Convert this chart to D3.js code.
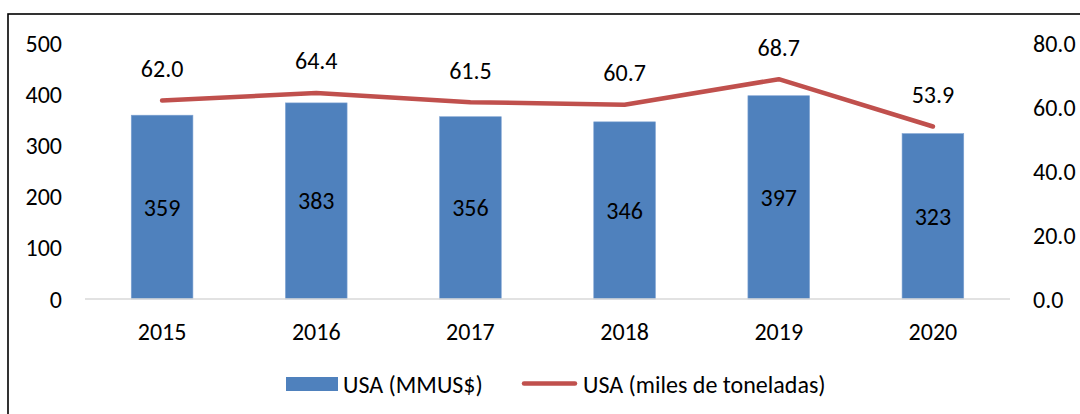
<!DOCTYPE html>
<html>
<head>
<meta charset="utf-8">
<script src="https://cdn.jsdelivr.net/npm/d3@7"></script>
<style>
  html, body { margin: 0; padding: 0; background: #fff; }
  svg { display: block; }
  text { font-family: Carlito, Lato, "Open Sans", sans-serif; fill: #000; }
</style>
</head>
<body>
<svg id="chart" width="1080" height="414"></svg>
<script>
const years = ["2015", "2016", "2017", "2018", "2019", "2020"];
const valueMMUS = [359, 383, 356, 346, 397, 323];
const volumeKt = [62.0, 64.4, 61.5, 60.7, 68.7, 53.9];
const leftTicks = [0, 100, 200, 300, 400, 500];
const rightTicks = [0, 20, 40, 60, 80];
const seriesNames = ["USA (MMUS$)", "USA (miles de toneladas)"];

const svg = d3.select("#chart");
const FS = 24;
const blue = "#4F81BD", red = "#C0504D";

// frame
svg.append("rect").attr("x", 8).attr("y", 14).attr("width", 1100).attr("height", 440)
  .attr("fill", "none").attr("stroke", "#000").attr("stroke-width", 1.6);

const x = d3.scaleBand().domain(years).range([85, 1010]).padding(0);
const yL = d3.scaleLinear().domain([0, 500]).range([299, 43]);
const yR = d3.scaleLinear().domain([0, 80]).range([299, 43]);
const bw = x.bandwidth() * 0.4;

// left axis labels
svg.append("g").selectAll("text").data(leftTicks).join("text")
  .attr("x", 62).attr("y", d => yL(d)).attr("text-anchor", "end")
  .attr("dominant-baseline", "central").attr("font-size", FS).text(d => d);

// right axis labels
svg.append("g").selectAll("text").data(rightTicks).join("text")
  .attr("x", 1033).attr("y", d => yR(d)).attr("text-anchor", "start")
  .attr("dominant-baseline", "central").attr("font-size", FS).text(d => d3.format(".1f")(d));

// bars
svg.append("g").selectAll("rect").data(years).join("rect")
  .attr("x", d => x(d) + (x.bandwidth() - bw) / 2)
  .attr("y", (d, i) => yL(valueMMUS[i]))
  .attr("width", bw)
  .attr("height", (d, i) => yL(0) - yL(valueMMUS[i]))
  .attr("fill", blue).attr("stroke", "#7FA3D3").attr("stroke-width", 0.6);

// baseline
svg.append("line").attr("x1", 85).attr("x2", 1010).attr("y1", yL(0)).attr("y2", yL(0))
  .attr("stroke", "#D9D9D9").attr("stroke-width", 1.5);

// x labels
svg.append("g").selectAll("text").data(years).join("text")
  .attr("x", d => x(d) + x.bandwidth() / 2).attr("y", 331)
  .attr("text-anchor", "middle").attr("dominant-baseline", "central")
  .attr("font-size", FS).text(d => d);

// bar labels
svg.append("g").selectAll("text").data(years).join("text")
  .attr("x", d => x(d) + x.bandwidth() / 2)
  .attr("y", (d, i) => (yL(valueMMUS[i]) + yL(0)) / 2)
  .attr("text-anchor", "middle").attr("dominant-baseline", "central")
  .attr("font-size", FS).text((d, i) => valueMMUS[i]);

// line
const line = d3.line().x((d, i) => x(years[i]) + x.bandwidth() / 2).y(d => yR(d));
svg.append("path").datum(volumeKt).attr("d", line)
  .attr("fill", "none").attr("stroke", red).attr("stroke-width", 4.5)
  .attr("stroke-linecap", "round").attr("stroke-linejoin", "round");

// line labels
svg.append("g").selectAll("text").data(volumeKt).join("text")
  .attr("x", (d, i) => x(years[i]) + x.bandwidth() / 2)
  .attr("y", d => yR(d) - 32)
  .attr("text-anchor", "middle").attr("dominant-baseline", "central")
  .attr("font-size", FS).text(d => d3.format(".1f")(d));

// legend
const lg = svg.append("g");
lg.append("rect").attr("x", 286).attr("y", 377).attr("width", 52).attr("height", 14).attr("fill", blue);
lg.append("text").attr("x", 343).attr("y", 384).attr("dominant-baseline", "central")
  .attr("font-size", FS).text(seriesNames[0]);
lg.append("line").attr("x1", 524).attr("x2", 575).attr("y1", 383.5).attr("y2", 383.5)
  .attr("stroke", red).attr("stroke-width", 4.5).attr("stroke-linecap", "round");
lg.append("text").attr("x", 583).attr("y", 384).attr("dominant-baseline", "central")
  .attr("font-size", FS).text(seriesNames[1]);
</script>
</body>
</html>
